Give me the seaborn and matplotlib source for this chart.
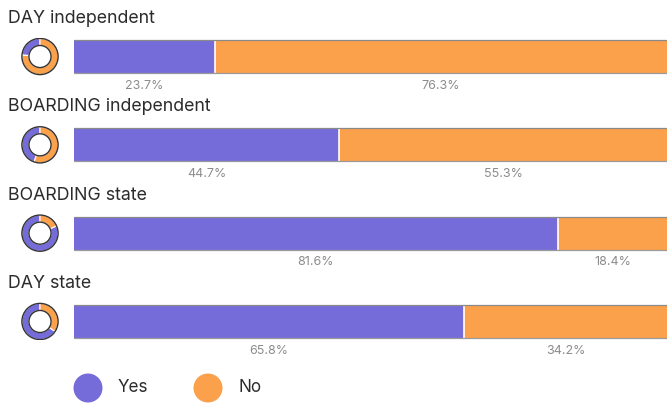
import matplotlib
matplotlib.use("Agg")
import matplotlib.pyplot as plt
from matplotlib.patches import Circle
import seaborn as sns
import pandas as pd

groups = ["DAY independent", "BOARDING independent", "BOARDING state", "DAY state"]
yes_pct = [23.7, 44.7, 81.6, 65.8]
no_pct = [76.3, 55.3, 18.4, 34.2]
answers = ["Yes", "No"]
colors = {"Yes": "#766CD9", "No": "#FBA04B"}

sns.set_theme(style="white")
plt.rcParams["font.family"] = ["Inter", "DejaVu Sans"]

W, H = 670, 403
fig = plt.figure(figsize=(W / 100, H / 100), dpi=100)

# main bar axes, placed in pixel terms
x0, x1 = 74, 667
y_top, y_bot = 3.5, 374.5
ax = fig.add_axes([x0 / W, 1 - y_bot / H, (x1 - x0) / W, (y_bot - y_top) / H])

df = pd.DataFrame({"group": groups, "Yes": yes_pct, "No": no_pct})
df["total"] = df["Yes"] + df["No"]

# stacked bars: full-length "No" bar with the "Yes" share drawn on top
sns.barplot(data=df, y="group", x="total", color=colors["No"], orient="h",
            width=0.373, ax=ax, saturation=1, edgecolor="none")
sns.barplot(data=df, y="group", x="Yes", color=colors["Yes"], orient="h",
            width=0.373, ax=ax, saturation=1, edgecolor="none")

ax.set_xlim(0, 100)
ax.set_ylim(3.6, -0.6)
ax.axis("off")

bh = 0.373
for i, (g, y, n) in enumerate(zip(groups, yes_pct, no_pct)):
    # separator and borders
    ax.plot([y, y], [i - bh / 2, i + bh / 2], color="white", lw=1.2, zorder=5)
    ax.plot([0, 100], [i - bh / 2, i - bh / 2], color="#8a8a8a", lw=0.9, zorder=5)
    ax.plot([0, 100], [i + bh / 2, i + bh / 2], color="#9a9a9a", lw=0.9, zorder=5)
    # value labels under each segment
    ax.text(y / 2, i + 0.33, f"{y}%", ha="center", va="center",
            fontsize=9, color="#8c8c8c")
    ax.text(y + n / 2, i + 0.33, f"{n}%", ha="center", va="center",
            fontsize=9, color="#8c8c8c")
    # group title
    fig.text(8 / W, 1 - (56.5 + i * 88.33 - 38) / H, g, ha="left", va="center",
             fontsize=12.8, color="#2b2b2b")

    # small donut per group
    cy = 56.5 + i * 88.33
    r = 19
    dax = fig.add_axes([(40 - r) / W, 1 - (cy + r) / H, 2 * r / W, 2 * r / H])
    dax.pie([y, n], colors=[colors["Yes"], colors["No"]], startangle=90,
            counterclock=True, radius=1.0,
            wedgeprops=dict(width=0.39, edgecolor="white", linewidth=0.8))
    dax.add_patch(Circle((0, 0), 1.0, fill=False, edgecolor="#333333", lw=1.0))
    dax.add_patch(Circle((0, 0), 0.61, fill=False, edgecolor="#333333", lw=1.0))
    dax.set_xlim(-1.05, 1.05)
    dax.set_ylim(-1.05, 1.05)
    dax.set_aspect("equal")
    dax.axis("off")

# legend
lax = fig.add_axes([0, 0, 1, 1])
lax.set_xlim(0, W)
lax.set_ylim(H, 0)
lax.axis("off")
for lx, lab in zip([88, 208], answers):
    lax.add_patch(Circle((lx, 388), 14.5, color=colors[lab], ec="none"))
    lax.text(lx + 30, 388, lab, ha="left", va="center", fontsize=12.3, color="#2b2b2b")

fig.savefig("out.png", dpi=100)
